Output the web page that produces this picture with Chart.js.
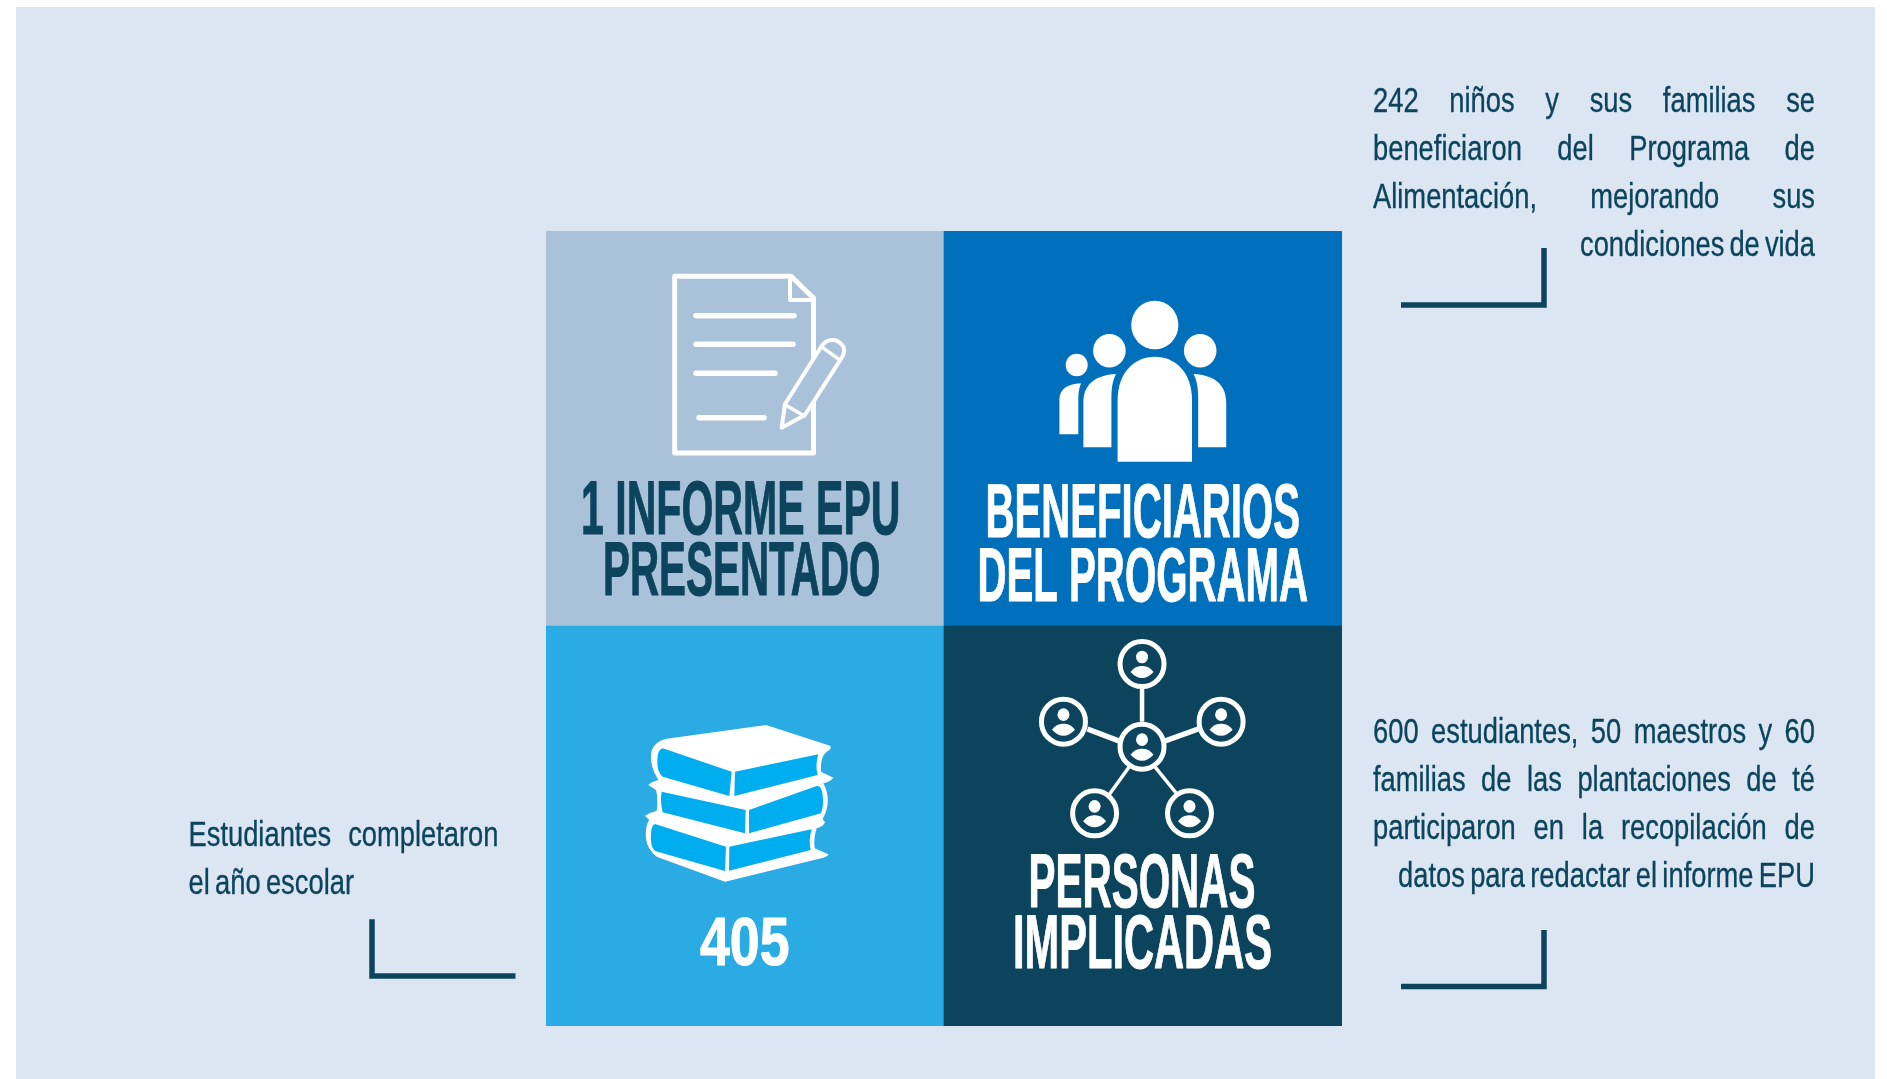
<!DOCTYPE html>
<html lang="es">
<head>
<meta charset="utf-8">
<title>Informe EPU</title>
<script src="https://cdn.jsdelivr.net/npm/chart.js"></script>
<style>
  html, body { margin: 0; padding: 0; background: #ffffff; overflow: hidden; }
  canvas { display: block; }
</style>
</head>
<body>
<canvas id="tiles" width="1887" height="1079"></canvas>
<script>
// tiles of the 2x2 block
const columns = ["Informe / 405", "Beneficiarios / Personas"];
const lowerRow = [400, 400];
const upperRow = [395, 395];
const lowerColors = ["#2aabe4", "#0b445c"];
const upperColors = ["#a9c2da", "#0070bc"];

const noteTopRight = ["242 niños y sus familias se", "beneficiaron del Programa de", "Alimentación, mejorando sus", "condiciones de vida"];
const noteBottomRight = ["600 estudiantes, 50 maestros y 60", "familias de las plantaciones de té", "participaron en la recopilación de", "datos para redactar el informe EPU"];
const noteLeft = ["Estudiantes completaron", "el año escolar"];

const titleReport = ["1 INFORME EPU", "PRESENTADO"];
const titleBenef = ["BENEFICIARIOS", "DEL PROGRAMA"];
const titleCount = ["405"];
const titlePeople = ["PERSONAS", "IMPLICADAS"];

const DARK = "#0b445c";
const WHITE = "#ffffff";
const BOOK = "#00adef";
const NARROW = "'Liberation Sans Narrow', 'Liberation Sans', sans-serif";
const NOTE_FONT = "35.5px " + NARROW;
const TITLE_FONT = "bold 76px " + NARROW;

// one line of text squeezed to run from x0 to x1
function fitLine(ctx, text, x0, x1, base, font, color, scale, bold) {
  ctx.save();
  ctx.font = font;
  ctx.fillStyle = color;
  ctx.textAlign = "left";
  ctx.textBaseline = "alphabetic";
  const w = ctx.measureText(text).width;
  const target = x1 - x0;
  let s = target / w;
  if (scale) {
    // fixed squeeze, the rest goes in the word gaps (justified lines)
    s = scale;
    const gaps = text.split(" ").length - 1;
    if (gaps) ctx.wordSpacing = (target / s - w) / gaps + "px";
  }
  ctx.translate(x0, base);
  ctx.scale(s, 1);
  ctx.fillText(text, 0, 0);
  if (bold) {
    ctx.strokeStyle = color;
    ctx.lineWidth = bold;
    ctx.lineJoin = "round";
    ctx.strokeText(text, 0, 0);
  }
  ctx.restore();
}

function bracket(ctx, pts) {
  ctx.save();
  ctx.strokeStyle = DARK;
  ctx.lineWidth = 5.5;
  ctx.lineJoin = "miter";
  ctx.beginPath();
  pts.forEach((p, i) => (i ? ctx.lineTo(p[0], p[1]) : ctx.moveTo(p[0], p[1])));
  ctx.stroke();
  ctx.restore();
}

// path from zoomed coordinates: [x, y] is a line, [cx, cy, x, y] a curve
function shape(ctx, fx, fy, pts, fill) {
  ctx.beginPath();
  pts.forEach((p, i) => {
    if (i === 0) ctx.moveTo(fx(p[0]), fy(p[1]));
    else if (p.length === 2) ctx.lineTo(fx(p[0]), fy(p[1]));
    else ctx.quadraticCurveTo(fx(p[0]), fy(p[1]), fx(p[2]), fy(p[3]));
  });
  ctx.closePath();
  ctx.fillStyle = fill;
  ctx.fill();
}

function drawDoc(ctx) {
  ctx.save();
  ctx.strokeStyle = WHITE;
  ctx.lineWidth = 5;
  ctx.lineJoin = "round";
  ctx.lineCap = "round";
  ctx.beginPath();
  ctx.moveTo(674.7, 276.3);
  ctx.lineTo(791, 276.3);
  ctx.lineTo(813.5, 298);
  ctx.lineTo(813.5, 453);
  ctx.lineTo(674.7, 453);
  ctx.closePath();
  ctx.stroke();
  ctx.lineWidth = 4;
  ctx.beginPath();
  ctx.moveTo(790, 278);
  ctx.lineTo(790, 300);
  ctx.lineTo(813, 300);
  ctx.stroke();
  // text lines of the sheet
  ctx.lineWidth = 5.5;
  [[696, 794, 315.7], [696, 793, 344.3], [696, 775, 373.3], [699, 764, 417.7]].forEach(l => {
    ctx.beginPath();
    ctx.moveTo(l[0], l[2]);
    ctx.lineTo(l[1], l[2]);
    ctx.stroke();
  });
  // pencil
  const px = X => 770 + X / 3;
  const py = Y => 330 + Y / 3;
  ctx.lineWidth = 4;
  ctx.beginPath();
  ctx.moveTo(px(45), py(222));
  ctx.lineTo(px(155), py(48));
  ctx.quadraticCurveTo(px(172), py(24), px(200), py(32));
  ctx.quadraticCurveTo(px(238), py(52), px(212), py(88));
  ctx.lineTo(px(105), py(255));
  ctx.lineTo(px(35), py(293));
  ctx.closePath();
  ctx.fillStyle = "#a9c2da";
  ctx.fill();
  ctx.stroke();
  ctx.lineWidth = 3.5;
  ctx.beginPath();
  ctx.moveTo(px(158), py(53));
  ctx.lineTo(px(210), py(90));
  ctx.moveTo(px(48), py(226));
  ctx.lineTo(px(103), py(258));
  ctx.stroke();
  ctx.restore();
}

function drawPeople(ctx) {
  ctx.save();
  ctx.fillStyle = WHITE;
  const cx = 1154.8;
  const head = (x, y, r) => { ctx.beginPath(); ctx.ellipse(x, y, r, r * 1.03, 0, 0, Math.PI * 2); ctx.fill(); };
  head(cx, 325, 23.6);
  head(1109.4, 350.7, 16.3);
  head(2 * cx - 1109.4, 350.7, 16.3);
  head(1076.7, 365, 11);
  ctx.beginPath();
  ctx.moveTo(1117.6, 461.7);
  ctx.lineTo(1117.6, 400);
  ctx.bezierCurveTo(1117.6, 372, 1135, 356.7, cx, 356.7);
  ctx.bezierCurveTo(1175, 356.7, 1192, 372, 1192, 400);
  ctx.lineTo(1192, 461.7);
  ctx.closePath();
  ctx.fill();
  // side figures, the right one is the left one mirrored
  const side = m => {
    const x = v => (m ? 2 * cx - v : v);
    ctx.beginPath();
    ctx.moveTo(x(1083.4), 447.3);
    ctx.lineTo(x(1083.4), 402);
    ctx.bezierCurveTo(x(1083.4), 385, x(1095), 375, x(1116), 374);
    ctx.bezierCurveTo(x(1112), 382, x(1111.4), 390, x(1111.4), 400);
    ctx.lineTo(x(1111.4), 447.3);
    ctx.closePath();
    ctx.fill();
  };
  side(false);
  side(true);
  ctx.beginPath();
  ctx.moveTo(1059.4, 434.3);
  ctx.lineTo(1059.4, 400);
  ctx.bezierCurveTo(1059.4, 390, 1066, 384, 1081, 383.3);
  ctx.bezierCurveTo(1079, 388, 1078.3, 394, 1078.3, 400);
  ctx.lineTo(1078.3, 434.3);
  ctx.closePath();
  ctx.fill();
  ctx.restore();
}

function drawBooks(ctx) {
  const fx = X => 640 + X / 3;
  const fy = Y => 715 + Y / 3;
  shape(ctx, fx, fy, [
    [75, 72], [378, 30], [570, 92], [578, 100, 560, 110], [540, 125, 543, 170], [580, 188], [575, 198, 550, 205],
    [578, 258, 548, 312], [555, 322], [550, 335, 530, 340], [520, 370, 524, 400], [565, 418], [565, 424, 550, 428],
    [255, 500], [50, 425], [12, 395, 18, 345], [20, 325, 28, 315], [15, 302], [30, 292, 50, 288],
    [55, 250, 48, 225], [25, 210], [35, 200, 55, 195], [30, 155, 33, 120], [35, 85, 75, 72]
  ], WHITE);
  [
    [[68, 100], [275, 170], [268, 243], [68, 185], [50, 170, 52, 135], [52, 105, 68, 100]],
    [[285, 170], [535, 118], [525, 150, 533, 180], [283, 243]],
    [[65, 230], [317, 285], [315, 355], [68, 292], [60, 260, 65, 230]],
    [[327, 285], [530, 213], [545, 212, 548, 240], [552, 270, 543, 295], [327, 355]],
    [[45, 327], [258, 395], [255, 468], [45, 408], [30, 395, 33, 360], [33, 332, 45, 327]],
    [[268, 395], [330, 382], [515, 343], [505, 375, 512, 405], [267, 467]]
  ].forEach(p => shape(ctx, fx, fy, p, BOOK));
}

function drawNetwork(ctx) {
  const fx = X => 540 + X / 1.96;
  const fy = Y => 625 + Y / 3;
  ctx.save();
  ctx.strokeStyle = WHITE;
  ctx.fillStyle = WHITE;
  ctx.lineCap = "butt";
  [[1180, 190, 1180, 290, 4.5], [1073, 312, 1135, 348, 5.5], [1290, 312, 1225, 348, 5.5], [1155, 425, 1115, 510, 3.5], [1205, 425, 1250, 510, 3.5]].forEach(l => {
    ctx.lineWidth = l[4];
    ctx.beginPath();
    ctx.moveTo(fx(l[0]), fy(l[1]));
    ctx.lineTo(fx(l[2]), fy(l[3]));
    ctx.stroke();
  });
  [[1180, 117], [1026, 290], [1335, 290], [1180, 365], [1087, 565], [1273, 565]].forEach(n => {
    const x = fx(n[0]);
    const y = fy(n[1]);
    ctx.lineWidth = 5;
    ctx.beginPath();
    ctx.ellipse(x, y, 22, 22.5, 0, 0, Math.PI * 2);
    ctx.stroke();
    // little person inside the ring
    ctx.beginPath();
    ctx.ellipse(x, y - 7, 6, 6.3, 0, 0, Math.PI * 2);
    ctx.fill();
    ctx.beginPath();
    ctx.moveTo(x - 11.5, y + 8);
    ctx.quadraticCurveTo(x - 7, y + 1.5, x, y + 2);
    ctx.quadraticCurveTo(x + 7, y + 1.5, x + 11.5, y + 8);
    ctx.quadraticCurveTo(x + 6, y + 14, x, y + 14);
    ctx.quadraticCurveTo(x - 6, y + 14, x - 11.5, y + 8);
    ctx.fill();
  });
  ctx.restore();
}

const panelPlugin = {
  id: "panel",
  beforeDraw(chart) {
    const ctx = chart.ctx;
    ctx.save();
    ctx.fillStyle = "#dce6f2";
    ctx.fillRect(16, 7, 1859, 1072);
    ctx.restore();
  }
};

const labelPlugin = {
  id: "labels",
  afterDatasetsDraw(chart) {
    const ctx = chart.ctx;
    drawDoc(ctx);
    drawPeople(ctx);
    drawBooks(ctx);
    drawNetwork(ctx);

    // tile titles
    fitLine(ctx, titleReport[0], 581, 900.5, 534, TITLE_FONT, DARK, 0, 1);
    fitLine(ctx, titleReport[1], 603, 880.5, 595, TITLE_FONT, DARK, 0, 1);
    fitLine(ctx, titleBenef[0], 985.5, 1300, 537, TITLE_FONT, WHITE, 0, 1);
    fitLine(ctx, titleBenef[1], 977.5, 1308, 601, TITLE_FONT, WHITE, 0, 1);
    fitLine(ctx, titleCount[0], 700, 789.5, 965, "bold 68px " + NARROW, WHITE, 0, 1);
    fitLine(ctx, titlePeople[0], 1028.5, 1255.5, 907, TITLE_FONT, WHITE, 0, 1);
    fitLine(ctx, titlePeople[1], 1013, 1272, 968, TITLE_FONT, WHITE, 0, 1);

    // side notes: one squeeze for all of them, word gaps take up the rest
    ctx.save();
    ctx.font = NOTE_FONT;
    const squeeze = 240 / ctx.measureText(noteTopRight[3]).width;
    ctx.restore();
    const topBase = [112, 160, 208, 256];
    noteTopRight.forEach((t, i) => fitLine(ctx, t, i === 3 ? 1580 : 1373, 1815, topBase[i], NOTE_FONT, DARK, squeeze, 0.35));
    const bottomBase = [743, 791, 839, 887];
    noteBottomRight.forEach((t, i) => fitLine(ctx, t, i === 3 ? 1398 : 1373, 1815, bottomBase[i], NOTE_FONT, DARK, squeeze, 0.35));
    fitLine(ctx, noteLeft[0], 188.5, 498.5, 846, NOTE_FONT, DARK, squeeze, 0.35);
    fitLine(ctx, noteLeft[1], 188.5, 354, 894, NOTE_FONT, DARK, squeeze, 0.35);

    bracket(ctx, [[1401, 305], [1544, 305], [1544, 248]]);
    bracket(ctx, [[1401, 986.6], [1544, 986.6], [1544, 930]]);
    bracket(ctx, [[515.5, 976], [372, 976], [372, 919.3]]);
  }
};

new Chart(document.getElementById("tiles").getContext("2d"), {
  type: "bar",
  data: {
    labels: columns,
    datasets: [
      { label: "Fila inferior", data: lowerRow, backgroundColor: lowerColors, borderWidth: 0, barPercentage: 1, categoryPercentage: 1 },
      { label: "Fila superior", data: upperRow, backgroundColor: upperColors, borderWidth: 0, barPercentage: 1, categoryPercentage: 1 }
    ]
  },
  options: {
    responsive: false,
    animation: false,
    layout: { padding: { left: 546, right: 545, top: 231, bottom: 53 } },
    plugins: { legend: { display: false }, tooltip: { enabled: false } },
    scales: {
      x: { stacked: true, display: false },
      y: { stacked: true, display: false, min: 0, max: 795 }
    }
  },
  plugins: [panelPlugin, labelPlugin]
});
</script>
</body>
</html>
